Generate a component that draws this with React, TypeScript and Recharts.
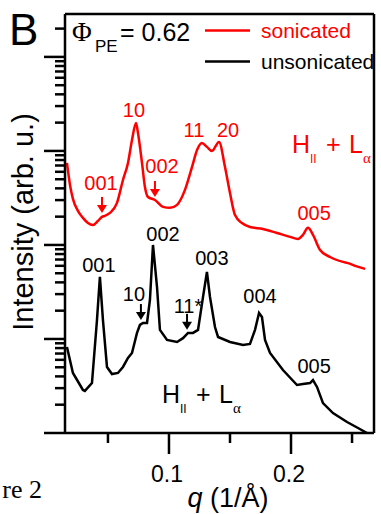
import React from 'react';
import { LineChart, Line, XAxis, YAxis, ReferenceLine, ReferenceDot, Legend, Label } from 'recharts';

const FONT = "'Liberation Sans', Arial, sans-serif";
const SERIF = "'Liberation Serif', 'Times New Roman', serif";

// ---- series (q in 1/Å, intensity in arb. units, log axis) ----
const sonicatedQ = [0.0164,0.0189,0.0213,0.0254,0.0295,0.0336,0.0377,0.0418,0.0451,0.0475,0.0516,0.0574,0.0623,0.0664,0.0697,0.0730,0.0746,0.0779,0.0803,0.0828,0.0885,0.0951,0.1008,0.1066,0.1131,0.1189,0.1230,0.1270,0.1311,0.1352,0.1410,0.1459,0.1500,0.1541,0.1598,0.1664,0.1770,0.1885,0.1992,0.2057,0.2098,0.2139,0.2180,0.2238,0.2320,0.2426,0.2467,0.2525,0.2607];
const sonicatedI = [745,435,309,230,194,171,163,180,199,204,219,280,491,745,1309,1986,1554,745,414,324,301,254,248,267,385,676,1025,1217,1104,1000,1247,676,357,208,171,155,148,134,122,116,128,152,128,88.5,74.5,66,64,60,55.6];

const unsonicatedQ = [0.0164,0.0213,0.0295,0.0311,0.0369,0.0410,0.0434,0.0459,0.0492,0.0533,0.0582,0.0623,0.0664,0.0697,0.0738,0.0762,0.0787,0.0820,0.0844,0.0869,0.0902,0.0926,0.0984,0.1066,0.1115,0.1156,0.1197,0.1238,0.1279,0.1311,0.1336,0.1377,0.1402,0.1500,0.1607,0.1664,0.1705,0.1738,0.1762,0.1787,0.1828,0.1934,0.2049,0.2098,0.2156,0.2180,0.2213,0.2262,0.2344,0.2459,0.2549,0.2623];
const unsonicatedI = [8.22,4.35,2.87,2.80,3.40,15.9,45.7,15.9,5.04,4.24,4.35,5.04,6.28,7.10,11.6,14.1,14.8,14.8,26.0,100,35.7,12.5,9.76,9.29,10.2,11.6,11.6,12.5,28.0,51.6,28.0,13.4,10.5,9.29,8.63,8.85,12.5,18.9,17.1,9.76,7.10,4.68,3.24,3.32,3.40,3.66,3.09,2.08,1.63,1.31,1.13,1.0];

// ---- axes ----
const X_MIN = 0.0148;
const X_MAX = 0.268;
const Y_MIN = 1;
const Y_MAX = 28600;
const xTicks = [0.05, 0.1, 0.15, 0.2, 0.25];
const xTickLabels: Record<string, string> = { '0.1': '0.1', '0.2': '0.2' };
const yDecades = [1, 10, 100, 1000, 10000];
const yMultipliers = [1, 2, 3, 4, 5, 6, 7, 8, 9];

// ---- annotations (data coordinates) ----
const redPeakLabels = ['10', '001', '002', '11', '20', '005'];
const redPeakQ = [0.0713, 0.0443, 0.0943, 0.1205, 0.1484, 0.2189];
const redPeakI = [2300, 385, 583, 1409, 1409, 184];
const blackPeakLabels = ['001', '002', '10', '11*', '003', '004', '005'];
const blackPeakQ = [0.0426, 0.0951, 0.0713, 0.1156, 0.1352, 0.1746, 0.2189];
const blackPeakI = [51.6, 110, 25.4, 18.9, 61.3, 24.2, 4.35];
const redArrowQ = [0.0451, 0.0885];
const redArrowI = [219, 324];
const blackArrowQ = [0.0770, 0.1148];
const blackArrowI = [15.9, 12.5];
const phaseQ = [0.2008, 0.0943];
const phaseI = [952, 2.08];
const phaseColors = ['#ff0000', '#000000'];

const RED = '#ff0000';
const BLACK = '#000000';

const sonicatedData = sonicatedQ.map((q, i) => ({ q, I: sonicatedI[i] }));
const unsonicatedData = unsonicatedQ.map((q, i) => ({ q, I: unsonicatedI[i] }));
const yTicks: number[] = [];
yDecades.forEach((d) => yMultipliers.forEach((m) => { const v = m * d; if (v <= Y_MAX) yTicks.push(v); }));

const YTick = (props: any) => {
  const { x, y, payload } = props;
  const lg = Math.log10(payload.value);
  const major = Math.abs(lg - Math.round(lg)) < 1e-6;
  return <line x1={x - (major ? 21 : 10)} x2={x} y1={y} y2={y} stroke={BLACK} strokeWidth={2.5} />;
};

const XTick = (props: any) => {
  const { x, y, payload } = props;
  const label = xTickLabels[String(payload.value)];
  const major = !!label;
  return (
    <g>
      <line x1={x} x2={x} y1={y} y2={y + (major ? 21 : 10)} stroke={BLACK} strokeWidth={2.5} />
      {major && (
        <text x={x - 2} y={y + 49} textAnchor="middle" fontSize={23} fontFamily={FONT} fill={BLACK}>{label}</text>
      )}
    </g>
  );
};

const peakShape = (text: string, color: string) => (p: any) => (
  <text x={p.cx} y={p.cy} textAnchor="middle" fontSize={20} fontFamily={FONT} fill={color}>{text}</text>
);

const arrowShape = (color: string) => (p: any) => {
  const { cx, cy } = p;
  return (
    <g>
      <line x1={cx} x2={cx} y1={cy - 16} y2={cy - 6} stroke={color} strokeWidth={2} />
      <polygon points={`${cx - 5},${cy - 8} ${cx + 5},${cy - 8} ${cx},${cy}`} fill={color} />
    </g>
  );
};

const phaseShape = (color: string) => (p: any) => {
  const { cx, cy } = p;
  return (
    <g fill={color} fontFamily={FONT}>
      <text x={cx} y={cy} fontSize={25}>H</text>
      <text x={cx + 18} y={cy + 10} fontSize={12}>II</text>
      <text x={cx + 34} y={cy} fontSize={25}>+</text>
      <text x={cx + 57} y={cy} fontSize={25}>L</text>
      <text x={cx + 71} y={cy + 10} fontSize={15} fontFamily={SERIF}>α</text>
    </g>
  );
};

const renderLegend = (props: any) => {
  const payload = props.payload || [];
  return (
    <div style={{ fontFamily: FONT }}>
      {payload.map((e: any, i: number) => (
        <div key={i} style={{ display: 'flex', alignItems: 'center', height: 31 }}>
          <svg width={50} height={31} style={{ display: 'block' }}>
            <line x1={5} x2={50} y1={15.5} y2={15.5} stroke={e.color} strokeWidth={2.5} />
          </svg>
          <span style={{ color: e.color, fontSize: 21, marginLeft: 11, whiteSpace: 'nowrap' }}>{e.value}</span>
        </div>
      ))}
    </div>
  );
};

export default function App() {
  return (
    <div style={{ position: 'absolute', left: 0, top: 0, width: 381, height: 514, background: '#fff' }}>
      <LineChart width={381} height={514} margin={{ top: 14, right: 7, left: 35, bottom: 51 }}>
        <XAxis
          type="number"
          dataKey="q"
          domain={[X_MIN, X_MAX]}
          allowDataOverflow
          ticks={xTicks}
          interval={0}
          tickSize={0}
          tickMargin={0}
          tickLine={false}
          tick={<XTick />}
          height={30}
          axisLine={{ stroke: BLACK, strokeWidth: 2.5 }}
        >
          <Label
            content={() => (
              <text x={228} y={507} textAnchor="middle" fontSize={27} fontFamily={FONT} fill={BLACK}>
                <tspan fontStyle="italic">q</tspan> (1/Å)
              </text>
            )}
          />
        </XAxis>
        <YAxis
          type="number"
          scale="log"
          domain={[Y_MIN, Y_MAX]}
          allowDataOverflow
          ticks={yTicks}
          interval={0}
          tickSize={0}
          tickMargin={0}
          tickLine={false}
          tick={<YTick />}
          width={30}
          axisLine={{ stroke: BLACK, strokeWidth: 2.5 }}
        >
          <Label
            content={() => (
              <text x={33} y={222} transform="rotate(-90 33 222)" textAnchor="middle" fontSize={29} fontFamily={FONT} fill={BLACK}>
                Intensity (arb. u.)
              </text>
            )}
          />
        </YAxis>
        <ReferenceLine y={Y_MAX} stroke={BLACK} strokeWidth={2.5} />
        <ReferenceLine x={X_MAX} stroke={BLACK} strokeWidth={2.5} />
        <Line
          data={sonicatedData}
          dataKey="I"
          name="sonicated"
          type="monotone"
          stroke={RED}
          strokeWidth={2.5}
          dot={false}
          isAnimationActive={false}
        />
        <Line
          data={unsonicatedData}
          dataKey="I"
          name="unsonicated"
          type="linear"
          stroke={BLACK}
          strokeWidth={2.5}
          dot={false}
          isAnimationActive={false}
        />
        {redPeakLabels.map((t, i) => (
          <ReferenceDot key={'rp' + i} x={redPeakQ[i]} y={redPeakI[i]} r={0} shape={peakShape(t, RED)} />
        ))}
        {blackPeakLabels.map((t, i) => (
          <ReferenceDot key={'bp' + i} x={blackPeakQ[i]} y={blackPeakI[i]} r={0} shape={peakShape(t, BLACK)} />
        ))}
        {redArrowQ.map((q, i) => (
          <ReferenceDot key={'ra' + i} x={q} y={redArrowI[i]} r={0} shape={arrowShape(RED)} />
        ))}
        {blackArrowQ.map((q, i) => (
          <ReferenceDot key={'ba' + i} x={q} y={blackArrowI[i]} r={0} shape={arrowShape(BLACK)} />
        ))}
        {phaseQ.map((q, i) => (
          <ReferenceDot key={'ph' + i} x={q} y={phaseI[i]} r={0} shape={phaseShape(phaseColors[i])} />
        ))}
        <Legend
          layout="vertical"
          align="center"
          verticalAlign="middle"
          content={renderLegend}
          wrapperStyle={{ left: 200, top: 15, width: 181 }}
        />
      </LineChart>
      <svg width={381} height={514} style={{ position: 'absolute', left: 0, top: 0, pointerEvents: 'none' }}>
        <text x={9} y={45} fontSize={44} fontFamily={FONT} fill={BLACK}>B</text>
        <text x={72} y={41} fontSize={27} fontFamily={SERIF} fill={BLACK}>Φ</text>
        <text x={95} y={52} fontSize={17} fontFamily={FONT} fill={BLACK}>PE</text>
        <text x={120} y={41} fontSize={25} fontFamily={FONT} fill={BLACK}>= 0.62</text>
        <text x={42} y={498} textAnchor="end" fontSize={26} fontFamily={SERIF} fill={BLACK}>re 2</text>
      </svg>
    </div>
  );
}
